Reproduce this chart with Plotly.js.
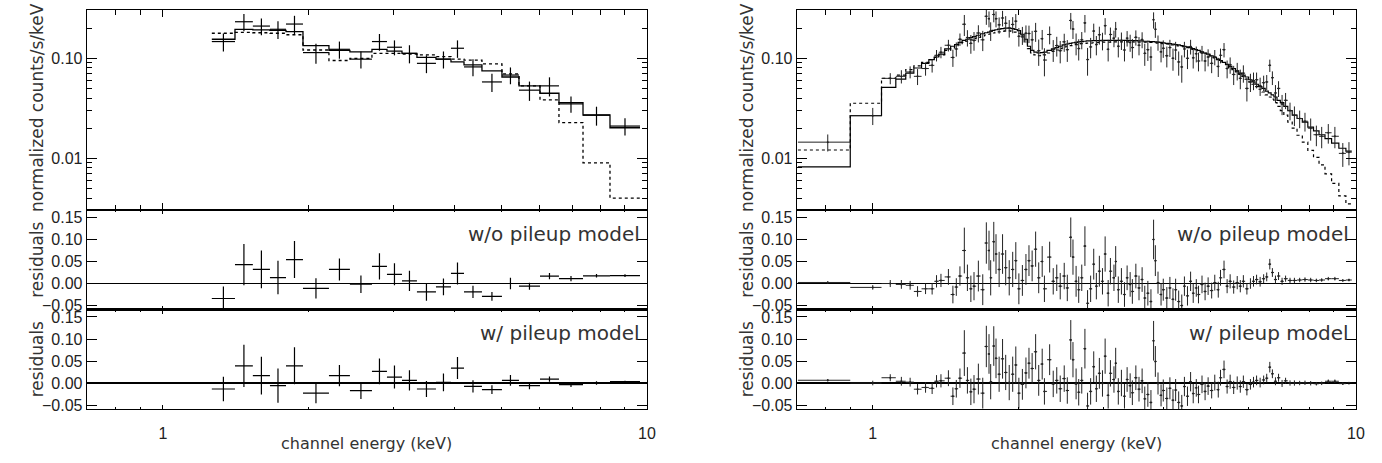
<!DOCTYPE html>
<html>
<head>
<meta charset="utf-8">
<script src="https://cdn.plot.ly/plotly-3.0.1.min.js"></script>
<style>html,body{margin:0;padding:0;background:#fff;}#chart{width:1382px;height:463px;}</style>
</head>
<body>
<div id="chart"></div>
<script>
// ---------------- LEFT COLUMN DATA ----------------
const lEdges = [1.262, 1.409, 1.534, 1.664, 1.796, 1.947, 2.203, 2.434, 2.703, 2.903, 3.118, 3.348, 3.665, 3.936, 4.188, 4.561, 5.016, 5.439, 6.011, 6.579, 7.376, 8.386, 9.672];
const lCounts = [0.147, 0.232, 0.210, 0.195, 0.220, 0.114, 0.123, 0.098, 0.147, 0.129, 0.112, 0.089, 0.098, 0.126, 0.082, 0.058, 0.068, 0.048, 0.053, 0.035, 0.027, 0.021];
const lCountErr = [0.030, 0.046, 0.040, 0.039, 0.046, 0.026, 0.024, 0.019, 0.028, 0.022, 0.023, 0.018, 0.019, 0.025, 0.016, 0.012, 0.013, 0.0105, 0.0115, 0.0065, 0.0058, 0.0041];
const lModelPile = [0.155, 0.195, 0.192, 0.190, 0.185, 0.134, 0.120, 0.116, 0.123, 0.118, 0.112, 0.102, 0.098, 0.092, 0.086, 0.075, 0.065, 0.053, 0.0447, 0.036, 0.0271, 0.0202];
const lModelNoPile = [0.178, 0.182, 0.180, 0.178, 0.172, 0.121, 0.095, 0.100, 0.112, 0.112, 0.110, 0.108, 0.104, 0.098, 0.096, 0.088, 0.070, 0.053, 0.0383, 0.0227, 0.0090, 0.0040];
const lRes1 = [-0.034, 0.043, 0.032, 0.0136, 0.0545, -0.011, 0.032, -0.0015, 0.039, 0.021, 0.006, -0.019, -0.0076, 0.023, -0.019, -0.029, 0.0, -0.006, 0.0167, 0.011, 0.0174, 0.018];
const lRes1Err = [0.027, 0.047, 0.043, 0.038, 0.042, 0.023, 0.025, 0.020, 0.030, 0.025, 0.023, 0.020, 0.019, 0.025, 0.014, 0.010, 0.013, 0.008, 0.007, 0.006, 0.004, 0.003];
const lRes2 = [-0.0136, 0.039, 0.0167, -0.006, 0.039, -0.023, 0.0167, -0.0174, 0.0265, 0.0136, 0.006, -0.0136, 0.0015, 0.034, -0.0076, -0.015, 0.006, -0.006, 0.009, -0.0038, 0.0, 0.003];
const lRes2Err = [0.028, 0.048, 0.043, 0.039, 0.042, 0.023, 0.024, 0.019, 0.029, 0.026, 0.023, 0.018, 0.020, 0.025, 0.014, 0.010, 0.012, 0.008, 0.006, 0.005, 0.004, 0.002];

// ---------------- RIGHT COLUMN DATA ----------------
const rLowEdge = 0.70, rHighEdge = 9.80;
const rE = [0.807, 1.000, 1.087, 1.146, 1.195, 1.238, 1.286, 1.327, 1.355, 1.384,
 1.434, 1.465, 1.489, 1.515, 1.547, 1.570, 1.596, 1.620, 1.654, 1.689,
 1.718, 1.740, 1.754, 1.780, 1.799, 1.826, 1.856, 1.884, 1.916, 1.948,
 1.977, 2.006, 2.040, 2.075, 2.105, 2.137, 2.173, 2.205, 2.242, 2.266,
 2.323, 2.363, 2.403, 2.443, 2.490, 2.527, 2.569, 2.596, 2.635, 2.668,
 2.707, 2.748, 2.783, 2.824, 2.866, 2.902, 2.944, 2.988, 3.026, 3.070,
 3.103, 3.156, 3.182, 3.222, 3.270, 3.318, 3.360, 3.409, 3.445, 3.503,
 3.556, 3.609, 3.655, 3.709, 3.764, 3.812, 3.844, 3.893, 3.950, 3.992,
 4.060, 4.120, 4.181, 4.234, 4.296, 4.360, 4.415, 4.480, 4.547, 4.604,
 4.672, 4.721, 4.801, 4.872, 4.943, 5.027, 5.102, 5.188, 5.243, 5.332,
 5.411, 5.490, 5.583, 5.678, 5.762, 5.847, 5.946, 6.047, 6.136, 6.227,
 6.333, 6.440, 6.535, 6.632, 6.714, 6.813, 6.914, 7.031, 7.150, 7.302,
 7.457, 7.646, 7.842, 8.058, 8.279, 8.492, 8.763, 9.043, 9.391, 9.670];
const rCounts = [0.0145, 0.0267, 0.063, 0.066, 0.073, 0.066, 0.079, 0.085, 0.107, 0.115,
 0.135, 0.102, 0.124, 0.155, 0.219, 0.161, 0.141, 0.151, 0.179, 0.153,
 0.263, 0.249, 0.189, 0.274, 0.249, 0.216, 0.253, 0.224, 0.201, 0.218,
 0.235, 0.166, 0.171, 0.178, 0.177, 0.153, 0.186, 0.119, 0.157, 0.096,
 0.173, 0.122, 0.134, 0.119, 0.146, 0.122, 0.239, 0.196, 0.142, 0.125,
 0.153, 0.226, 0.097, 0.130, 0.187, 0.137, 0.172, 0.150, 0.212, 0.123,
 0.173, 0.159, 0.196, 0.132, 0.151, 0.121, 0.159, 0.144, 0.128, 0.162,
 0.135, 0.154, 0.112, 0.122, 0.103, 0.243, 0.195, 0.144, 0.116, 0.126,
 0.106, 0.128, 0.100, 0.121, 0.092, 0.082, 0.124, 0.100, 0.131, 0.101,
 0.111, 0.094, 0.113, 0.094, 0.103, 0.089, 0.103, 0.083, 0.107, 0.122,
 0.079, 0.086, 0.069, 0.075, 0.063, 0.071, 0.050, 0.058, 0.060, 0.061,
 0.053, 0.057, 0.058, 0.085, 0.064, 0.045, 0.050, 0.035, 0.038, 0.030,
 0.027, 0.025, 0.0235, 0.020, 0.0172, 0.0166, 0.018, 0.0166, 0.0112, 0.0115];
const rCountErr = [0.0028, 0.0052, 0.008, 0.010, 0.010, 0.012, 0.012, 0.013, 0.014, 0.015,
 0.018, 0.020, 0.020, 0.022, 0.052, 0.030, 0.030, 0.032, 0.035, 0.035,
 0.047, 0.045, 0.040, 0.045, 0.045, 0.040, 0.045, 0.040, 0.040, 0.040,
 0.042, 0.035, 0.035, 0.035, 0.035, 0.035, 0.040, 0.035, 0.035, 0.030,
 0.035, 0.030, 0.030, 0.030, 0.030, 0.030, 0.045, 0.040, 0.035, 0.030,
 0.030, 0.045, 0.030, 0.030, 0.035, 0.030, 0.035, 0.030, 0.040, 0.030,
 0.030, 0.030, 0.035, 0.030, 0.030, 0.028, 0.028, 0.028, 0.028, 0.028,
 0.028, 0.028, 0.028, 0.028, 0.028, 0.045, 0.035, 0.025, 0.025, 0.025,
 0.025, 0.025, 0.025, 0.025, 0.025, 0.025, 0.022, 0.022, 0.022, 0.022,
 0.020, 0.020, 0.020, 0.020, 0.020, 0.018, 0.018, 0.018, 0.018, 0.020,
 0.016, 0.016, 0.015, 0.015, 0.014, 0.014, 0.013, 0.012, 0.012, 0.011,
 0.011, 0.010, 0.010, 0.012, 0.010, 0.009, 0.009, 0.008, 0.007, 0.006,
 0.006, 0.005, 0.005, 0.005, 0.004, 0.004, 0.004, 0.004, 0.003, 0.003];
const rModelPile = [0.0082, 0.0267, 0.0513, 0.062, 0.071, 0.080, 0.089, 0.097, 0.103, 0.110,
 0.124, 0.132, 0.137, 0.144, 0.151, 0.155, 0.161, 0.165, 0.170, 0.176,
 0.180, 0.183, 0.186, 0.190, 0.193, 0.196, 0.198, 0.200, 0.200, 0.198,
 0.194, 0.189, 0.174, 0.155, 0.132, 0.120, 0.115, 0.113, 0.114, 0.115,
 0.120, 0.124, 0.128, 0.132, 0.136, 0.139, 0.141, 0.143, 0.144, 0.146,
 0.147, 0.148, 0.149, 0.149, 0.150, 0.150, 0.150, 0.151, 0.151, 0.151,
 0.151, 0.151, 0.151, 0.151, 0.151, 0.151, 0.151, 0.150, 0.150, 0.150,
 0.149, 0.149, 0.148, 0.148, 0.147, 0.147, 0.146, 0.145, 0.144, 0.143,
 0.141, 0.140, 0.139, 0.137, 0.136, 0.134, 0.132, 0.130, 0.128, 0.125,
 0.122, 0.120, 0.116, 0.113, 0.110, 0.106, 0.102, 0.098, 0.095, 0.091,
 0.087, 0.083, 0.079, 0.075, 0.071, 0.068, 0.065, 0.061, 0.058, 0.055,
 0.052, 0.050, 0.047, 0.045, 0.043, 0.041, 0.038, 0.036, 0.033, 0.030,
 0.027, 0.025, 0.023, 0.0205, 0.0188, 0.0172, 0.0157, 0.0142, 0.0126, 0.0118];
const rModelNoPile = [0.0121, 0.0355, 0.063, 0.068, 0.077, 0.084, 0.091, 0.097, 0.102, 0.108,
 0.120, 0.127, 0.132, 0.138, 0.144, 0.148, 0.153, 0.157, 0.162, 0.167,
 0.171, 0.174, 0.176, 0.179, 0.182, 0.184, 0.186, 0.188, 0.188, 0.186,
 0.183, 0.178, 0.164, 0.146, 0.125, 0.113, 0.108, 0.106, 0.107, 0.108,
 0.113, 0.117, 0.121, 0.125, 0.129, 0.132, 0.134, 0.136, 0.137, 0.139,
 0.140, 0.141, 0.142, 0.142, 0.143, 0.143, 0.144, 0.145, 0.145, 0.145,
 0.145, 0.146, 0.146, 0.146, 0.146, 0.146, 0.146, 0.146, 0.146, 0.145,
 0.145, 0.145, 0.145, 0.144, 0.144, 0.143, 0.143, 0.142, 0.141, 0.140,
 0.139, 0.138, 0.136, 0.135, 0.133, 0.132, 0.130, 0.128, 0.126, 0.123,
 0.121, 0.119, 0.115, 0.112, 0.109, 0.105, 0.101, 0.097, 0.094, 0.090,
 0.085, 0.081, 0.077, 0.073, 0.069, 0.066, 0.062, 0.058, 0.055, 0.052,
 0.049, 0.046, 0.043, 0.041, 0.039, 0.036, 0.033, 0.030, 0.027, 0.023,
 0.020, 0.017, 0.0145, 0.012, 0.0102, 0.0086, 0.0070, 0.0056, 0.0042, 0.0035];
const rRes1 = [0.0024, -0.0088, 0.000, -0.002, -0.004, -0.018, -0.012, -0.012, 0.005, 0.007,
 0.015, -0.025, -0.008, 0.017, 0.075, 0.013, -0.012, -0.006, 0.017, -0.014,
 0.092, 0.075, 0.013, 0.095, 0.067, 0.032, 0.067, 0.036, 0.013, 0.032,
 0.052, -0.012, 0.007, 0.032, 0.052, 0.040, 0.078, 0.013, 0.050, -0.012,
 0.060, 0.005, 0.013, -0.006, 0.017, -0.010, 0.105, 0.060, 0.005, -0.014,
 0.013, 0.085, -0.045, -0.012, 0.044, -0.006, 0.028, 0.005, 0.067, -0.022,
 0.028, 0.013, 0.050, -0.014, 0.005, -0.025, 0.013, -0.002, -0.018, 0.017,
 -0.010, 0.009, -0.033, -0.022, -0.041, 0.100, 0.052, 0.002, -0.025, -0.014,
 -0.033, -0.010, -0.036, -0.014, -0.041, -0.050, -0.006, -0.028, 0.005, -0.022,
 -0.010, -0.025, -0.002, -0.018, -0.006, -0.016, 0.002, -0.014, 0.013, 0.032,
 -0.006, 0.005, -0.008, 0.002, -0.006, 0.005, -0.012, 0.000, 0.005, 0.009,
 0.004, 0.011, 0.015, 0.044, 0.025, 0.009, 0.017, 0.005, 0.011, 0.007,
 0.007, 0.008, 0.009, 0.008, 0.007, 0.008, 0.011, 0.011, 0.007, 0.008];
const rRes2 = [0.0063, 0.000, 0.012, 0.004, 0.002, -0.014, -0.010, -0.012, 0.004, 0.005,
 0.011, -0.030, -0.013, 0.011, 0.068, 0.006, -0.020, -0.014, 0.009, -0.023,
 0.083, 0.066, 0.003, 0.084, 0.056, 0.020, 0.055, 0.024, 0.001, 0.020,
 0.041, -0.023, -0.003, 0.023, 0.045, 0.033, 0.071, 0.006, 0.043, -0.019,
 0.053, -0.002, 0.006, -0.013, 0.010, -0.017, 0.098, 0.053, -0.002, -0.021,
 0.006, 0.078, -0.052, -0.019, 0.037, -0.013, 0.022, -0.001, 0.061, -0.028,
 0.022, 0.008, 0.045, -0.019, 0.000, -0.030, 0.008, -0.006, -0.022, 0.012,
 -0.014, 0.005, -0.036, -0.026, -0.044, 0.096, 0.049, -0.001, -0.028, -0.017,
 -0.035, -0.012, -0.039, -0.016, -0.044, -0.052, -0.008, -0.030, 0.003, -0.024,
 -0.011, -0.026, -0.003, -0.019, -0.007, -0.017, 0.001, -0.015, 0.012, 0.031,
 -0.008, 0.003, -0.010, 0.000, -0.008, 0.003, -0.015, -0.003, 0.002, 0.006,
 0.001, 0.007, 0.011, 0.036, 0.021, 0.004, 0.012, -0.001, 0.005, 0.000,
 0.000, 0.000, 0.0005, -0.0005, -0.0016, -0.0006, 0.004, 0.004, -0.0014, -0.0003];

// ---------------- TEXT ----------------
const xTickVals = [1, 10], xTickText = ['1', '10'];
const xMinorVals = [0.8, 0.9, 2, 3, 4, 5, 6, 7, 8, 9];
const yTopVals = [0.01, 0.1], yTopText = ['0.01', '0.10'];
const yTopMinor = [0.004, 0.005, 0.006, 0.007, 0.008, 0.009, 0.02, 0.03, 0.04, 0.05, 0.06, 0.07, 0.08, 0.09, 0.2, 0.3];
const yResVals = [-0.05, 0, 0.05, 0.10, 0.15], yResText = ['\u22120.05', '0.00', '0.05', '0.10', '0.15'];
const labelTop = 'normalized counts/s/keV', labelRes = 'residuals', labelX = 'channel energy (keV)';
const noteRes1 = 'w/o pileup model', noteRes2 = 'w/ pileup model';

// ---------------- BUILD ----------------
const TICKFONT = 'Liberation Sans, Arial, sans-serif';
const LABELFONT = 'DejaVu Sans, Liberation Sans, sans-serif';
const INK = '#000';
const W = 1382, H = 463;
const px = v => v / W, py = v => 1 - v / H;

function geoCenters(edges) { const c = []; for (let i = 0; i < edges.length - 1; i++) c.push(Math.sqrt(edges[i] * edges[i + 1])); return c; }
function edgesFromCenters(c, lo, hi) { const e = [lo]; for (let i = 1; i < c.length; i++) e.push(Math.sqrt(c[i - 1] * c[i])); e.push(hi); return e; }

function crosses(edges, xc, y, err, xa, ya, dot, thick, col) {
  const plus = [], minus = [];
  for (let i = 0; i < xc.length; i++) { plus.push(edges[i + 1] - xc[i]); minus.push(xc[i] - edges[i]); }
  return {type: 'scatter', mode: 'markers', x: xc, y: y, xaxis: xa, yaxis: ya,
    marker: {size: dot > 0 ? dot : 2, color: dot > 0 ? col : 'rgba(0,0,0,0)', line: {width: 0}}, cliponaxis: true,
    error_x: {type: 'data', symmetric: false, array: plus, arrayminus: minus, width: 0, thickness: thick, color: col},
    error_y: {type: 'data', array: err, width: 0, thickness: thick, color: col},
    hoverinfo: 'skip', showlegend: false};
}
function step(edges, vals, xa, ya, dash, w) {
  return {type: 'scatter', mode: 'lines', x: edges.slice(), y: vals.concat([vals[vals.length - 1]]),
    xaxis: xa, yaxis: ya, line: {shape: 'hv', color: INK, width: w, dash: dash}, hoverinfo: 'skip', showlegend: false};
}

const lCenters = geoCenters(lEdges);
const rEdges = edgesFromCenters(rE, rLowEdge, rHighEdge);

const traces = [
  step(lEdges, lModelNoPile, 'x', 'y', 'dot', 1.3),
  step(lEdges, lModelPile, 'x', 'y', 'solid', 1.3),
  crosses(lEdges, lCenters, lCounts, lCountErr, 'x', 'y', 0, 1.2, '#000'),
  crosses(lEdges, lCenters, lRes1, lRes1Err, 'x2', 'y2', 0, 1.2, '#000'),
  crosses(lEdges, lCenters, lRes2, lRes2Err, 'x3', 'y3', 0, 1.2, '#000'),
  step(rEdges, rModelNoPile, 'x4', 'y4', 'dot', 1.2),
  step(rEdges, rModelPile, 'x4', 'y4', 'solid', 1.2),
  crosses(rEdges, rE, rCounts, rCountErr, 'x4', 'y4', 2, 1, '#222'),
  crosses(rEdges, rE, rRes1, rCountErr, 'x5', 'y5', 2, 1, '#222'),
  crosses(rEdges, rE, rRes2, rCountErr, 'x6', 'y6', 2, 1, '#222')
];

const colX = [[px(87), px(647)], [px(797), px(1356)]];
const rowY = [[py(210), py(10)], [py(309.5), py(210)], [py(409), py(309.5)]];
const tickFont = {family: TICKFONT, size: 16, color: '#222'};

function xAxis(col, row, anchor) {
  const top = row === 0, bottom = row === 2;
  return {domain: colX[col], anchor: anchor, type: 'log', range: [Math.log10(0.697), 1.0],
    showline: true, linecolor: INK, linewidth: 1.3, mirror: 'ticks',
    ticks: 'inside', ticklen: top ? 7 : 4, tickwidth: 1, tickcolor: INK,
    tickmode: 'array', tickvals: xTickVals, ticktext: xTickText, showticklabels: bottom,
    tickfont: tickFont, ticklabelstandoff: 9,
    minor: {ticks: 'inside', ticklen: top ? 5 : 2, tickwidth: 1, tickcolor: INK, tickmode: 'array', tickvals: xMinorVals, showgrid: false},
    showgrid: false, zeroline: false, automargin: false, fixedrange: true};
}
function yTop(col, anchor) {
  return {domain: rowY[0], anchor: anchor, type: 'log', range: [Math.log10(0.00304), Math.log10(0.304)],
    showline: true, linecolor: INK, linewidth: 1.3, mirror: 'ticks',
    ticks: 'inside', ticklen: 10, tickwidth: 1, tickcolor: INK,
    tickmode: 'array', tickvals: yTopVals, ticktext: yTopText, tickfont: tickFont,
    minor: {ticks: 'inside', ticklen: 5, tickwidth: 1, tickcolor: INK, tickmode: 'array', tickvals: yTopMinor, showgrid: false},
    showgrid: false, zeroline: false, automargin: false, fixedrange: true};
}
function yRes(row, anchor) {
  return {domain: rowY[row], anchor: anchor, range: [-0.059, 0.167],
    showline: true, linecolor: INK, linewidth: 1.3, mirror: 'ticks',
    ticks: 'inside', ticklen: 10, tickwidth: 1, tickcolor: INK,
    tickmode: 'array', tickvals: yResVals, ticktext: yResText, tickfont: tickFont,
    showgrid: false, zeroline: true, zerolinecolor: INK, zerolinewidth: 1.3,
    automargin: false, fixedrange: true};
}

const titleFont = {family: LABELFONT, size: 17, color: '#333'};
const xTitleFont = {family: LABELFONT, size: 16, color: '#333'};
const noteFont = {family: LABELFONT, size: 20, color: '#333'};
function ann(text, x, y, opts) {
  return Object.assign({text: text, xref: 'paper', yref: 'paper', x: x, y: y, showarrow: false,
    font: titleFont, xanchor: 'center', yanchor: 'middle'}, opts || {});
}
const annotations = [];
[[87, 647], [797, 1356]].forEach(([l, r]) => {
  annotations.push(ann(labelTop, px(l - 50), py(108), {textangle: -90}));
  annotations.push(ann(labelRes, px(l - 50), py(259.75), {textangle: -90}));
  annotations.push(ann(labelRes, px(l - 50), py(359.25), {textangle: -90}));
  annotations.push(ann(labelX, px((l + r) / 2), py(443), {font: xTitleFont}));
  annotations.push(ann(noteRes1, px(r - 5), py(234), {xanchor: 'right', font: noteFont}));
  annotations.push(ann(noteRes2, px(r - 5), py(333), {xanchor: 'right', font: noteFont}));
});

const layout = {
  width: W, height: H, margin: {l: 0, r: 0, t: 0, b: 0},
  paper_bgcolor: '#fff', plot_bgcolor: '#fff', showlegend: false,
  xaxis: xAxis(0, 0, 'y'), yaxis: yTop(0, 'x'),
  xaxis2: xAxis(0, 1, 'y2'), yaxis2: yRes(1, 'x2'),
  xaxis3: xAxis(0, 2, 'y3'), yaxis3: yRes(2, 'x3'),
  xaxis4: xAxis(1, 0, 'y4'), yaxis4: yTop(1, 'x4'),
  xaxis5: xAxis(1, 1, 'y5'), yaxis5: yRes(1, 'x5'),
  xaxis6: xAxis(1, 2, 'y6'), yaxis6: yRes(2, 'x6'),
  annotations: annotations
};

Plotly.newPlot('chart', traces, layout, {staticPlot: true, displayModeBar: false});
</script>
</body>
</html>
